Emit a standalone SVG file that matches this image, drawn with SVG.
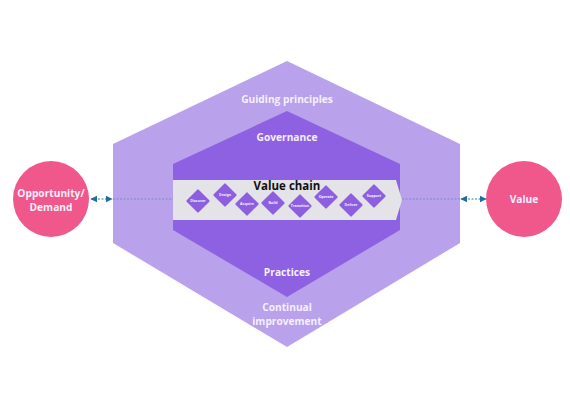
<svg xmlns="http://www.w3.org/2000/svg" width="570" height="400" viewBox="0 0 570 400">
<defs>
<style>
.lbl{font-family:"Open Sans","Liberation Sans",sans-serif;font-weight:700;fill:#f5f0fd;text-anchor:middle;font-size:10.2px}
.dia{fill:#8d5ee0}
.dtx{font-family:"Open Sans","Liberation Sans",sans-serif;font-weight:700;font-size:3.6px;fill:#f5f0fd;text-anchor:middle}
.conn{stroke:#2b78ad;stroke-width:1;stroke-dasharray:2 1.5;fill:none}
.conn2{stroke:#6f7fd0;stroke-width:0.8;stroke-dasharray:2 1.5;fill:none}
</style>
<marker id="ah" viewBox="0 0 10 10" refX="9" refY="5" markerWidth="7" markerHeight="8" orient="auto-start-reverse" markerUnits="userSpaceOnUse">
<path d="M0,0 L10,5 L0,10 z" fill="#1f6e9e"/>
</marker>
</defs>
<rect width="570" height="400" fill="#ffffff"/>
<g id="guiding-principles">
<polygon points="287,61 460,144 460,243 287,347 113,243 113,144" fill="#b9a1ec"/>
<text class="lbl" x="287" y="103">Guiding principles</text>
<text class="lbl" x="287" y="311">Continual</text>
<text class="lbl" x="287" y="325">improvement</text>
</g>
<g id="governance">
<polygon points="287,111 400,164 400,230 287,297 173,230 173,164" fill="#8e61e2"/>
<text class="lbl" x="287" y="141">Governance</text>
<text class="lbl" x="287" y="276">Practices</text>
</g>
<g id="connectors">
<line class="conn" x1="91" y1="199" x2="112" y2="199" marker-start="url(#ah)" marker-end="url(#ah)"/>
<line class="conn2" x1="113" y1="199" x2="173" y2="199"/>
<line class="conn2" x1="402" y1="199" x2="460" y2="199"/>
<line class="conn" x1="461" y1="199" x2="486" y2="199" marker-start="url(#ah)" marker-end="url(#ah)"/>
</g>
<g id="value-chain">
<polygon points="173,180 396,180 402,200 396,220 173,220" fill="#e3e3e8"/>
<text x="287" y="190" font-family="Open Sans, Liberation Sans, sans-serif" font-weight="700" font-size="11.5" fill="#111111" text-anchor="middle">Value chain</text>
</g>
<g id="discover"><rect class="dia" x="-8.5" y="-8.5" width="17" height="17" rx="1" transform="translate(198,201) rotate(45)"/><text class="dtx" x="198" y="202.3">Discover</text></g>
<g id="design"><rect class="dia" x="-8.5" y="-8.5" width="17" height="17" rx="1" transform="translate(225,195) rotate(45)"/><text class="dtx" x="225" y="196.3">Design</text></g>
<g id="acquire"><rect class="dia" x="-8.5" y="-8.5" width="17" height="17" rx="1" transform="translate(247,204) rotate(45)"/><text class="dtx" x="247" y="205.3">Acquire</text></g>
<g id="build"><rect class="dia" x="-8.5" y="-8.5" width="17" height="17" rx="1" transform="translate(273,203) rotate(45)"/><text class="dtx" x="273" y="204.3">Build</text></g>
<g id="transition"><rect class="dia" x="-8.5" y="-8.5" width="17" height="17" rx="1" transform="translate(300,206) rotate(45)"/><text class="dtx" x="300" y="207.3">Transition</text></g>
<g id="operate"><rect class="dia" x="-8.5" y="-8.5" width="17" height="17" rx="1" transform="translate(326,197) rotate(45)"/><text class="dtx" x="326" y="198.3">Operate</text></g>
<g id="deliver"><rect class="dia" x="-8.5" y="-8.5" width="17" height="17" rx="1" transform="translate(351,205) rotate(45)"/><text class="dtx" x="351" y="206.3">Deliver</text></g>
<g id="support"><rect class="dia" x="-8.5" y="-8.5" width="17" height="17" rx="1" transform="translate(374,196) rotate(45)"/><text class="dtx" x="374" y="197.3">Support</text></g>
<g id="opportunity-demand">
<circle cx="51" cy="199" r="38" fill="#f0578b"/>
<text class="lbl" x="51" y="197">Opportunity/</text>
<text class="lbl" x="51" y="211">Demand</text>
</g>
<g id="value">
<circle cx="524" cy="199" r="38" fill="#f0578b"/>
<text class="lbl" x="524" y="203">Value</text>
</g>
</svg>
